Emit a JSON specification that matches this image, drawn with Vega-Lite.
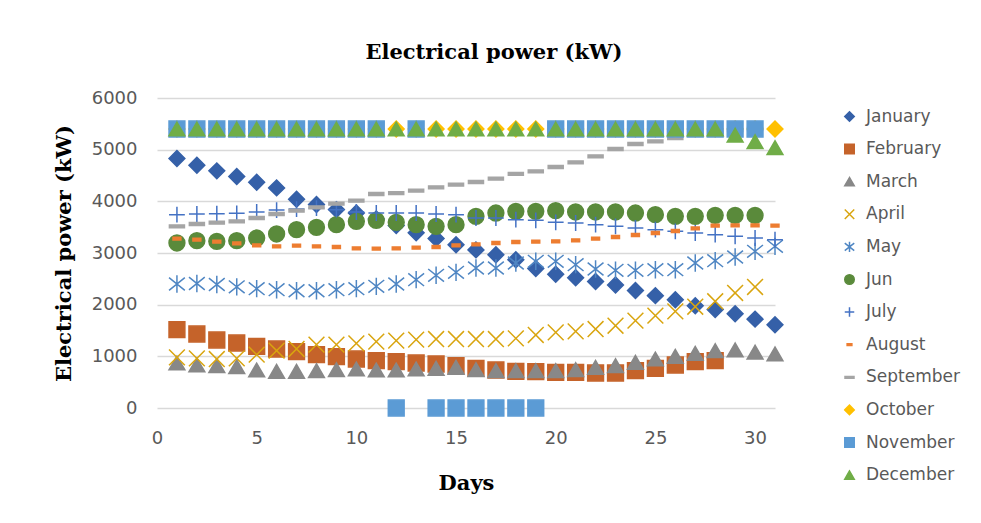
{
  "$schema": "https://vega.github.io/schema/vega-lite/v6.json",
  "width": 618,
  "height": 310,
  "autosize": {"type": "none"},
  "padding": {"left": 157, "top": 98, "right": 206, "bottom": 115},
  "background": "white",
  "title": {
    "text": "Electrical power (kW)",
    "font": "DejaVu Serif",
    "fontSize": 21,
    "fontWeight": "bold",
    "color": "#000000",
    "frame": "group",
    "anchor": "middle",
    "dx": 28,
    "offset": 26
  },
  "config": {
    "font": "DejaVu Sans",
    "view": {"stroke": null}
  },
  "data": {
    "values": [
      {"month": "January", "day": 1, "kw": 4830}, {"month": "January", "day": 2, "kw": 4700}, {"month": "January", "day": 3, "kw": 4590}, {"month": "January", "day": 4, "kw": 4480}, {"month": "January", "day": 5, "kw": 4370}, {"month": "January", "day": 6, "kw": 4260}, {"month": "January", "day": 7, "kw": 4040}, {"month": "January", "day": 8, "kw": 3940}, {"month": "January", "day": 9, "kw": 3840}, {"month": "January", "day": 10, "kw": 3775}, {"month": "January", "day": 11, "kw": 3660}, {"month": "January", "day": 12, "kw": 3530}, {"month": "January", "day": 13, "kw": 3390}, {"month": "January", "day": 14, "kw": 3280}, {"month": "January", "day": 15, "kw": 3160}, {"month": "January", "day": 16, "kw": 3060}, {"month": "January", "day": 17, "kw": 2965}, {"month": "January", "day": 18, "kw": 2870}, {"month": "January", "day": 19, "kw": 2700}, {"month": "January", "day": 20, "kw": 2590}, {"month": "January", "day": 21, "kw": 2520}, {"month": "January", "day": 22, "kw": 2450}, {"month": "January", "day": 23, "kw": 2380}, {"month": "January", "day": 24, "kw": 2275}, {"month": "January", "day": 25, "kw": 2175}, {"month": "January", "day": 26, "kw": 2095}, {"month": "January", "day": 27, "kw": 1980}, {"month": "January", "day": 28, "kw": 1905}, {"month": "January", "day": 29, "kw": 1825}, {"month": "January", "day": 30, "kw": 1720}, {"month": "January", "day": 31, "kw": 1610},
      {"month": "February", "day": 1, "kw": 1516}, {"month": "February", "day": 2, "kw": 1432}, {"month": "February", "day": 3, "kw": 1316}, {"month": "February", "day": 4, "kw": 1258}, {"month": "February", "day": 5, "kw": 1194}, {"month": "February", "day": 6, "kw": 1142}, {"month": "February", "day": 7, "kw": 1090}, {"month": "February", "day": 8, "kw": 1032}, {"month": "February", "day": 9, "kw": 994}, {"month": "February", "day": 10, "kw": 948}, {"month": "February", "day": 11, "kw": 916}, {"month": "February", "day": 12, "kw": 897}, {"month": "February", "day": 13, "kw": 871}, {"month": "February", "day": 14, "kw": 852}, {"month": "February", "day": 15, "kw": 819}, {"month": "February", "day": 16, "kw": 768}, {"month": "February", "day": 17, "kw": 736}, {"month": "February", "day": 18, "kw": 710}, {"month": "February", "day": 19, "kw": 703}, {"month": "February", "day": 20, "kw": 690}, {"month": "February", "day": 21, "kw": 690}, {"month": "February", "day": 22, "kw": 677}, {"month": "February", "day": 23, "kw": 677}, {"month": "February", "day": 24, "kw": 723}, {"month": "February", "day": 25, "kw": 768}, {"month": "February", "day": 26, "kw": 832}, {"month": "February", "day": 27, "kw": 897}, {"month": "February", "day": 28, "kw": 916},
      {"month": "March", "day": 1, "kw": 871}, {"month": "March", "day": 2, "kw": 832}, {"month": "March", "day": 3, "kw": 819}, {"month": "March", "day": 4, "kw": 800}, {"month": "March", "day": 5, "kw": 736}, {"month": "March", "day": 6, "kw": 710}, {"month": "March", "day": 7, "kw": 710}, {"month": "March", "day": 8, "kw": 723}, {"month": "March", "day": 9, "kw": 742}, {"month": "March", "day": 10, "kw": 755}, {"month": "March", "day": 11, "kw": 736}, {"month": "March", "day": 12, "kw": 736}, {"month": "March", "day": 13, "kw": 755}, {"month": "March", "day": 14, "kw": 768}, {"month": "March", "day": 15, "kw": 787}, {"month": "March", "day": 16, "kw": 742}, {"month": "March", "day": 17, "kw": 723}, {"month": "March", "day": 18, "kw": 723}, {"month": "March", "day": 19, "kw": 723}, {"month": "March", "day": 20, "kw": 723}, {"month": "March", "day": 21, "kw": 742}, {"month": "March", "day": 22, "kw": 787}, {"month": "March", "day": 23, "kw": 819}, {"month": "March", "day": 24, "kw": 884}, {"month": "March", "day": 25, "kw": 948}, {"month": "March", "day": 26, "kw": 1000}, {"month": "March", "day": 27, "kw": 1058}, {"month": "March", "day": 28, "kw": 1110}, {"month": "March", "day": 29, "kw": 1125}, {"month": "March", "day": 30, "kw": 1080}, {"month": "March", "day": 31, "kw": 1048},
      {"month": "April", "day": 1, "kw": 981}, {"month": "April", "day": 2, "kw": 961}, {"month": "April", "day": 3, "kw": 948}, {"month": "April", "day": 4, "kw": 961}, {"month": "April", "day": 5, "kw": 1032}, {"month": "April", "day": 6, "kw": 1110}, {"month": "April", "day": 7, "kw": 1142}, {"month": "April", "day": 8, "kw": 1226}, {"month": "April", "day": 9, "kw": 1226}, {"month": "April", "day": 10, "kw": 1252}, {"month": "April", "day": 11, "kw": 1284}, {"month": "April", "day": 12, "kw": 1303}, {"month": "April", "day": 13, "kw": 1323}, {"month": "April", "day": 14, "kw": 1335}, {"month": "April", "day": 15, "kw": 1335}, {"month": "April", "day": 16, "kw": 1335}, {"month": "April", "day": 17, "kw": 1335}, {"month": "April", "day": 18, "kw": 1348}, {"month": "April", "day": 19, "kw": 1413}, {"month": "April", "day": 20, "kw": 1464}, {"month": "April", "day": 21, "kw": 1484}, {"month": "April", "day": 22, "kw": 1529}, {"month": "April", "day": 23, "kw": 1593}, {"month": "April", "day": 24, "kw": 1690}, {"month": "April", "day": 25, "kw": 1787}, {"month": "April", "day": 26, "kw": 1871}, {"month": "April", "day": 27, "kw": 1960}, {"month": "April", "day": 28, "kw": 2065}, {"month": "April", "day": 29, "kw": 2226}, {"month": "April", "day": 30, "kw": 2342},
      {"month": "May", "day": 1, "kw": 2400}, {"month": "May", "day": 2, "kw": 2410}, {"month": "May", "day": 3, "kw": 2390}, {"month": "May", "day": 4, "kw": 2345}, {"month": "May", "day": 5, "kw": 2310}, {"month": "May", "day": 6, "kw": 2290}, {"month": "May", "day": 7, "kw": 2270}, {"month": "May", "day": 8, "kw": 2270}, {"month": "May", "day": 9, "kw": 2290}, {"month": "May", "day": 10, "kw": 2310}, {"month": "May", "day": 11, "kw": 2355}, {"month": "May", "day": 12, "kw": 2400}, {"month": "May", "day": 13, "kw": 2484}, {"month": "May", "day": 14, "kw": 2568}, {"month": "May", "day": 15, "kw": 2626}, {"month": "May", "day": 16, "kw": 2710}, {"month": "May", "day": 17, "kw": 2710}, {"month": "May", "day": 18, "kw": 2806}, {"month": "May", "day": 19, "kw": 2839}, {"month": "May", "day": 20, "kw": 2839}, {"month": "May", "day": 21, "kw": 2774}, {"month": "May", "day": 22, "kw": 2690}, {"month": "May", "day": 23, "kw": 2665}, {"month": "May", "day": 24, "kw": 2665}, {"month": "May", "day": 25, "kw": 2677}, {"month": "May", "day": 26, "kw": 2677}, {"month": "May", "day": 27, "kw": 2806}, {"month": "May", "day": 28, "kw": 2852}, {"month": "May", "day": 29, "kw": 2923}, {"month": "May", "day": 30, "kw": 3032}, {"month": "May", "day": 31, "kw": 3129},
      {"month": "Jun", "day": 1, "kw": 3194}, {"month": "Jun", "day": 2, "kw": 3239}, {"month": "Jun", "day": 3, "kw": 3226}, {"month": "Jun", "day": 4, "kw": 3239}, {"month": "Jun", "day": 5, "kw": 3290}, {"month": "Jun", "day": 6, "kw": 3368}, {"month": "Jun", "day": 7, "kw": 3452}, {"month": "Jun", "day": 8, "kw": 3497}, {"month": "Jun", "day": 9, "kw": 3548}, {"month": "Jun", "day": 10, "kw": 3613}, {"month": "Jun", "day": 11, "kw": 3632}, {"month": "Jun", "day": 12, "kw": 3594}, {"month": "Jun", "day": 13, "kw": 3548}, {"month": "Jun", "day": 14, "kw": 3516}, {"month": "Jun", "day": 15, "kw": 3548}, {"month": "Jun", "day": 16, "kw": 3710}, {"month": "Jun", "day": 17, "kw": 3774}, {"month": "Jun", "day": 18, "kw": 3806}, {"month": "Jun", "day": 19, "kw": 3806}, {"month": "Jun", "day": 20, "kw": 3819}, {"month": "Jun", "day": 21, "kw": 3794}, {"month": "Jun", "day": 22, "kw": 3794}, {"month": "Jun", "day": 23, "kw": 3794}, {"month": "Jun", "day": 24, "kw": 3774}, {"month": "Jun", "day": 25, "kw": 3742}, {"month": "Jun", "day": 26, "kw": 3710}, {"month": "Jun", "day": 27, "kw": 3710}, {"month": "Jun", "day": 28, "kw": 3729}, {"month": "Jun", "day": 29, "kw": 3729}, {"month": "Jun", "day": 30, "kw": 3729},
      {"month": "July", "day": 1, "kw": 3742}, {"month": "July", "day": 2, "kw": 3755}, {"month": "July", "day": 3, "kw": 3761}, {"month": "July", "day": 4, "kw": 3768}, {"month": "July", "day": 5, "kw": 3794}, {"month": "July", "day": 6, "kw": 3830}, {"month": "July", "day": 7, "kw": 3850}, {"month": "July", "day": 8, "kw": 3870}, {"month": "July", "day": 9, "kw": 3839}, {"month": "July", "day": 10, "kw": 3794}, {"month": "July", "day": 11, "kw": 3774}, {"month": "July", "day": 12, "kw": 3774}, {"month": "July", "day": 13, "kw": 3774}, {"month": "July", "day": 14, "kw": 3755}, {"month": "July", "day": 15, "kw": 3742}, {"month": "July", "day": 16, "kw": 3677}, {"month": "July", "day": 17, "kw": 3677}, {"month": "July", "day": 18, "kw": 3645}, {"month": "July", "day": 19, "kw": 3632}, {"month": "July", "day": 20, "kw": 3594}, {"month": "July", "day": 21, "kw": 3581}, {"month": "July", "day": 22, "kw": 3548}, {"month": "July", "day": 23, "kw": 3516}, {"month": "July", "day": 24, "kw": 3484}, {"month": "July", "day": 25, "kw": 3452}, {"month": "July", "day": 26, "kw": 3420}, {"month": "July", "day": 27, "kw": 3387}, {"month": "July", "day": 28, "kw": 3355}, {"month": "July", "day": 29, "kw": 3323}, {"month": "July", "day": 30, "kw": 3290}, {"month": "July", "day": 31, "kw": 3258},
      {"month": "August", "day": 1, "kw": 3278}, {"month": "August", "day": 2, "kw": 3258}, {"month": "August", "day": 3, "kw": 3220}, {"month": "August", "day": 4, "kw": 3187}, {"month": "August", "day": 5, "kw": 3149}, {"month": "August", "day": 6, "kw": 3129}, {"month": "August", "day": 7, "kw": 3142}, {"month": "August", "day": 8, "kw": 3129}, {"month": "August", "day": 9, "kw": 3116}, {"month": "August", "day": 10, "kw": 3090}, {"month": "August", "day": 11, "kw": 3084}, {"month": "August", "day": 12, "kw": 3090}, {"month": "August", "day": 13, "kw": 3103}, {"month": "August", "day": 14, "kw": 3116}, {"month": "August", "day": 15, "kw": 3149}, {"month": "August", "day": 16, "kw": 3168}, {"month": "August", "day": 17, "kw": 3194}, {"month": "August", "day": 18, "kw": 3213}, {"month": "August", "day": 19, "kw": 3220}, {"month": "August", "day": 20, "kw": 3226}, {"month": "August", "day": 21, "kw": 3245}, {"month": "August", "day": 22, "kw": 3278}, {"month": "August", "day": 23, "kw": 3310}, {"month": "August", "day": 24, "kw": 3348}, {"month": "August", "day": 25, "kw": 3387}, {"month": "August", "day": 26, "kw": 3426}, {"month": "August", "day": 27, "kw": 3477}, {"month": "August", "day": 28, "kw": 3529}, {"month": "August", "day": 29, "kw": 3535}, {"month": "August", "day": 30, "kw": 3535}, {"month": "August", "day": 31, "kw": 3529},
      {"month": "September", "day": 1, "kw": 3516}, {"month": "September", "day": 2, "kw": 3561}, {"month": "September", "day": 3, "kw": 3587}, {"month": "September", "day": 4, "kw": 3613}, {"month": "September", "day": 5, "kw": 3677}, {"month": "September", "day": 6, "kw": 3755}, {"month": "September", "day": 7, "kw": 3819}, {"month": "September", "day": 8, "kw": 3884}, {"month": "September", "day": 9, "kw": 3955}, {"month": "September", "day": 10, "kw": 4013}, {"month": "September", "day": 11, "kw": 4142}, {"month": "September", "day": 12, "kw": 4158}, {"month": "September", "day": 13, "kw": 4207}, {"month": "September", "day": 14, "kw": 4271}, {"month": "September", "day": 15, "kw": 4323}, {"month": "September", "day": 16, "kw": 4375}, {"month": "September", "day": 17, "kw": 4439}, {"month": "September", "day": 18, "kw": 4530}, {"month": "September", "day": 19, "kw": 4581}, {"month": "September", "day": 20, "kw": 4665}, {"month": "September", "day": 21, "kw": 4755}, {"month": "September", "day": 22, "kw": 4871}, {"month": "September", "day": 23, "kw": 5013}, {"month": "September", "day": 24, "kw": 5110}, {"month": "September", "day": 25, "kw": 5161}, {"month": "September", "day": 26, "kw": 5226}, {"month": "September", "day": 27, "kw": 5290}, {"month": "September", "day": 28, "kw": 5340}, {"month": "September", "day": 29, "kw": 5380}, {"month": "September", "day": 30, "kw": 5400},
      {"month": "October", "day": 1, "kw": 5400}, {"month": "October", "day": 2, "kw": 5400}, {"month": "October", "day": 3, "kw": 5400}, {"month": "October", "day": 4, "kw": 5400}, {"month": "October", "day": 5, "kw": 5400}, {"month": "October", "day": 6, "kw": 5400}, {"month": "October", "day": 7, "kw": 5400}, {"month": "October", "day": 8, "kw": 5400}, {"month": "October", "day": 9, "kw": 5400}, {"month": "October", "day": 10, "kw": 5400}, {"month": "October", "day": 11, "kw": 5400}, {"month": "October", "day": 12, "kw": 5400}, {"month": "October", "day": 13, "kw": 5400}, {"month": "October", "day": 14, "kw": 5400}, {"month": "October", "day": 15, "kw": 5400}, {"month": "October", "day": 16, "kw": 5400}, {"month": "October", "day": 17, "kw": 5400}, {"month": "October", "day": 18, "kw": 5400}, {"month": "October", "day": 19, "kw": 5400}, {"month": "October", "day": 20, "kw": 5400}, {"month": "October", "day": 21, "kw": 5400}, {"month": "October", "day": 22, "kw": 5400}, {"month": "October", "day": 23, "kw": 5400}, {"month": "October", "day": 24, "kw": 5400}, {"month": "October", "day": 25, "kw": 5400}, {"month": "October", "day": 26, "kw": 5400}, {"month": "October", "day": 27, "kw": 5400}, {"month": "October", "day": 28, "kw": 5400}, {"month": "October", "day": 29, "kw": 5400}, {"month": "October", "day": 30, "kw": 5400}, {"month": "October", "day": 31, "kw": 5400},
      {"month": "November", "day": 1, "kw": 5400}, {"month": "November", "day": 2, "kw": 5400}, {"month": "November", "day": 3, "kw": 5400}, {"month": "November", "day": 4, "kw": 5400}, {"month": "November", "day": 5, "kw": 5400}, {"month": "November", "day": 6, "kw": 5400}, {"month": "November", "day": 7, "kw": 5400}, {"month": "November", "day": 8, "kw": 5400}, {"month": "November", "day": 9, "kw": 5400}, {"month": "November", "day": 10, "kw": 5400}, {"month": "November", "day": 11, "kw": 5400}, {"month": "November", "day": 12, "kw": 0}, {"month": "November", "day": 13, "kw": 5400}, {"month": "November", "day": 14, "kw": 0}, {"month": "November", "day": 15, "kw": 0}, {"month": "November", "day": 16, "kw": 0}, {"month": "November", "day": 17, "kw": 0}, {"month": "November", "day": 18, "kw": 0}, {"month": "November", "day": 19, "kw": 0}, {"month": "November", "day": 20, "kw": 5400}, {"month": "November", "day": 21, "kw": 5400}, {"month": "November", "day": 22, "kw": 5400}, {"month": "November", "day": 23, "kw": 5400}, {"month": "November", "day": 24, "kw": 5400}, {"month": "November", "day": 25, "kw": 5400}, {"month": "November", "day": 26, "kw": 5400}, {"month": "November", "day": 27, "kw": 5400}, {"month": "November", "day": 28, "kw": 5400}, {"month": "November", "day": 29, "kw": 5400}, {"month": "November", "day": 30, "kw": 5400},
      {"month": "December", "day": 1, "kw": 5400}, {"month": "December", "day": 2, "kw": 5400}, {"month": "December", "day": 3, "kw": 5400}, {"month": "December", "day": 4, "kw": 5400}, {"month": "December", "day": 5, "kw": 5400}, {"month": "December", "day": 6, "kw": 5400}, {"month": "December", "day": 7, "kw": 5400}, {"month": "December", "day": 8, "kw": 5400}, {"month": "December", "day": 9, "kw": 5400}, {"month": "December", "day": 10, "kw": 5400}, {"month": "December", "day": 11, "kw": 5400}, {"month": "December", "day": 12, "kw": 5400}, {"month": "December", "day": 13, "kw": 5400}, {"month": "December", "day": 14, "kw": 5400}, {"month": "December", "day": 15, "kw": 5400}, {"month": "December", "day": 16, "kw": 5400}, {"month": "December", "day": 17, "kw": 5400}, {"month": "December", "day": 18, "kw": 5400}, {"month": "December", "day": 19, "kw": 5400}, {"month": "December", "day": 20, "kw": 5400}, {"month": "December", "day": 21, "kw": 5400}, {"month": "December", "day": 22, "kw": 5400}, {"month": "December", "day": 23, "kw": 5400}, {"month": "December", "day": 24, "kw": 5400}, {"month": "December", "day": 25, "kw": 5400}, {"month": "December", "day": 26, "kw": 5400}, {"month": "December", "day": 27, "kw": 5400}, {"month": "December", "day": 28, "kw": 5400}, {"month": "December", "day": 29, "kw": 5280}, {"month": "December", "day": 30, "kw": 5155}, {"month": "December", "day": 31, "kw": 5040}
    ]
  },
  "mark": {"type": "point", "filled": true, "size": 250, "strokeWidth": 1.5, "opacity": 1},
  "encoding": {
    "x": {
      "field": "day", "type": "quantitative",
      "scale": {"domain": [0, 31], "nice": false, "zero": true},
      "axis": {
        "title": "Days", "values": [0, 5, 10, 15, 20, 25, 30], "format": "d", "labelFlush": false,
        "grid": false, "domain": false, "ticks": false,
        "labelFont": "DejaVu Sans", "labelFontSize": 18, "labelColor": "#595959", "labelPadding": 21,
        "titleFont": "DejaVu Serif", "titleFontSize": 21, "titleFontWeight": "bold", "titleColor": "#000000", "titlePadding": 25
      }
    },
    "y": {
      "field": "kw", "type": "quantitative",
      "scale": {"domain": [0, 6000], "nice": false},
      "axis": {
        "title": "Electrical power (kW)", "values": [0, 1000, 2000, 3000, 4000, 5000, 6000], "format": "d",
        "grid": true, "gridColor": "#D9D9D9", "gridWidth": 1.5,
        "domain": false, "ticks": false,
        "labelFont": "DejaVu Sans", "labelFontSize": 18, "labelColor": "#595959", "labelPadding": 20,
        "titleFont": "DejaVu Serif", "titleFontSize": 21, "titleFontWeight": "bold", "titleColor": "#000000", "titlePadding": 17
      }
    },
    "color": {
      "field": "month", "type": "nominal",
      "scale": {
        "domain": ["January", "February", "March", "April", "May", "Jun", "July", "August", "September", "October", "November", "December"],
        "range": ["#3560A8", "#C5632A", "#888888", "#D9A50F", "#4F86C3", "#5A8A3B", "#4472C4", "#ED7D31", "#A5A5A5", "#FFC000", "#5B9BD5", "#70AD47"]
      },
      "legend": {
        "orient": "none", "legendX": 684, "legendY": 10, "title": null,
        "labelFont": "DejaVu Sans", "labelFontSize": 17, "labelColor": "#595959",
        "symbolSize": 90, "symbolStrokeWidth": 1.5, "rowPadding": 14.6, "labelOffset": 8
      }
    },
    "stroke": {
      "field": "month", "type": "nominal",
      "scale": {
        "domain": ["January", "February", "March", "April", "May", "Jun", "July", "August", "September", "October", "November", "December"],
        "range": ["#3560A8", "#C5632A", "#888888", "#D9A50F", "#4F86C3", "#5A8A3B", "#4472C4", "#ED7D31", "#A5A5A5", "#FFC000", "#5B9BD5", "#70AD47"]
      }
    },
    "shape": {
      "field": "month", "type": "nominal",
      "scale": {
        "domain": ["January", "February", "March", "April", "May", "Jun", "July", "August", "September", "October", "November", "December"],
        "range": ["diamond", "square", "triangle-up", "M-1,-1L1,1M-1,1L1,-1", "M-1,-0.8L1,0.8M-1,0.8L1,-0.8M0,-1.1L0,1.1", "circle", "M-1,0L1,0M0,-1L0,1", "M-0.5,-0.18L0.5,-0.18L0.5,0.18L-0.5,0.18Z", "M-0.95,-0.18L0.95,-0.18L0.95,0.18L-0.95,0.18Z", "diamond", "square", "triangle-up"]
      }
    }
  }
}
